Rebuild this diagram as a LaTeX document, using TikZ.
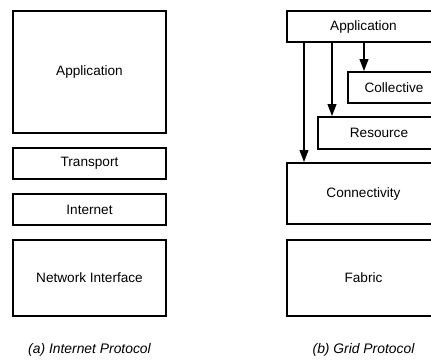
\documentclass[tikz,border=0pt]{standalone}
\usepackage{fontspec}
\setmainfont{Liberation Sans}
\usetikzlibrary{arrows.meta,positioning}
\tikzset{layer/.style={rectangle,draw,line width=1.3pt,inner sep=0pt,minimum width=114.75pt,font=\fontsize{10.2}{12}\selectfont},
  caption/.style={font=\itshape\fontsize{10.4}{12}\selectfont}}

\begin{document}
\begin{tikzpicture}[x=0.75pt,y=-0.75pt,>={Triangle[length=9pt,width=6.5pt]}]
    \useasboundingbox (0,0) rectangle (431,360);
    \clip (0,0) rectangle (431,360);
    % internet protocol
    \node[layer,minimum height=91.5pt] (ipapp) at (89.5,72) {Application};
    \node[layer,minimum height=23.25pt] (transport) at (89.5,163.5) {Transport};
    \node[layer,minimum height=23.25pt] (internet) at (89.5,209.5) {Internet};
    \node[layer,minimum height=57pt] (netif) at (89.5,278) {Network Interface};
    \node[caption] (capa) at (89.5,350) {(a) Internet Protocol};

    % grid protocol
    \node[layer,minimum height=23.25pt] (gridapp) at (363.5,26.5) {Application};
    \node[layer,minimum height=23.25pt,minimum width=69pt] (collective) at (394,87.5) {Collective};
    \node[layer,minimum height=24pt,minimum width=91.5pt] (resource) at (379,133) {Resource};
    \node[layer,minimum height=45.75pt] (connectivity) at (363.5,193.5) {Connectivity};
    \node[layer,minimum height=57pt] (fabric) at (363.5,278) {Fabric};
    \node[caption] (capb) at (363.5,350) {(b) Grid Protocol};

    \draw [->,line width=1.3pt] (304,0 |- gridapp.south) -- (304,0 |- connectivity.north);
    \draw [->,line width=1.3pt] (332,0 |- gridapp.south) -- (332,0 |- resource.north);
    \draw [->,line width=1.3pt] (364,0 |- gridapp.south) -- (364,0 |- collective.north);
\end{tikzpicture}
\end{document}
